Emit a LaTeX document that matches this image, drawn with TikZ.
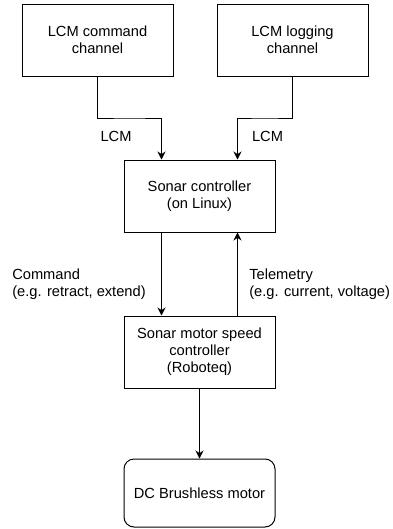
\documentclass[tikz,border=0pt]{standalone}
\usepackage{fontspec}
\setmainfont{Liberation Sans}
\usetikzlibrary{arrows.meta,calc}

\begin{document}
\begin{tikzpicture}[x=0.75pt,y=-0.75pt,
    font=\fontsize{11}{12.75}\selectfont,
    box/.style={draw, line width=0.75pt, minimum width=113.25pt, minimum height=54pt, align=center, inner sep=0pt},
    lbl/.style={align=left, inner sep=0pt},
    flow/.style={line width=0.75pt, -{Stealth[length=6pt,width=6pt]}}]
      \useasboundingbox (0,0) rectangle (393,529);
      % boxes
      \node[box] (cmdch) at (97.5,40) {LCM command\\channel};
      \node[box] (logch) at (292.5,40) {LCM logging\\channel};
      \node[box] (sonar) at (199.5,196) {Sonar controller\\(on Linux)};
      \node[box] (motorctl) at (199.5,352) {Sonar motor speed\\controller\\(Roboteq)};
      \node[box, rounded corners=7.5pt, minimum height=51pt] (motor) at (199.5,493) {DC Brushless motor};
      % attachment points
      \coordinate (sonarinl) at ($(sonar.north)!0.5!(sonar.north west)$);
      \coordinate (sonarinr) at ($(sonar.north)!0.5!(sonar.north east)$);
      \coordinate (sonaroutl) at ($(sonar.south)!0.5!(sonar.south west)$);
      \coordinate (sonaroutr) at ($(sonar.south)!0.5!(sonar.south east)$);
      \coordinate (ctlinl) at ($(motorctl.north)!0.5!(motorctl.north west)$);
      \coordinate (ctlinr) at ($(motorctl.north)!0.5!(motorctl.north east)$);
      % connectors
      \draw[flow] (cmdch.south) |- ($(cmdch.south)!0.5!(sonarinl)$) -| (sonarinl);
      \draw[flow] (logch.south) |- ($(logch.south)!0.5!(sonarinr)$) -| (sonarinr);
      \draw[flow] (sonaroutl) -- (ctlinl);
      \draw[flow] (ctlinr) -- (sonaroutr);
      \draw[flow] (motorctl.south) -- (motor.north);
      % labels
      \node[lbl] (lcml) at (116,136) {LCM};
      \node[lbl] (lcmr) at (267.5,136) {LCM};
      \node[lbl, anchor=west] (cmdlbl) at (12,284.5) {Command\\(e.g. retract, extend)};
      \node[lbl, anchor=west] (telelbl) at (249,284.5) {Telemetry\\(e.g. current, voltage)};

    \end{tikzpicture}
\end{document}
